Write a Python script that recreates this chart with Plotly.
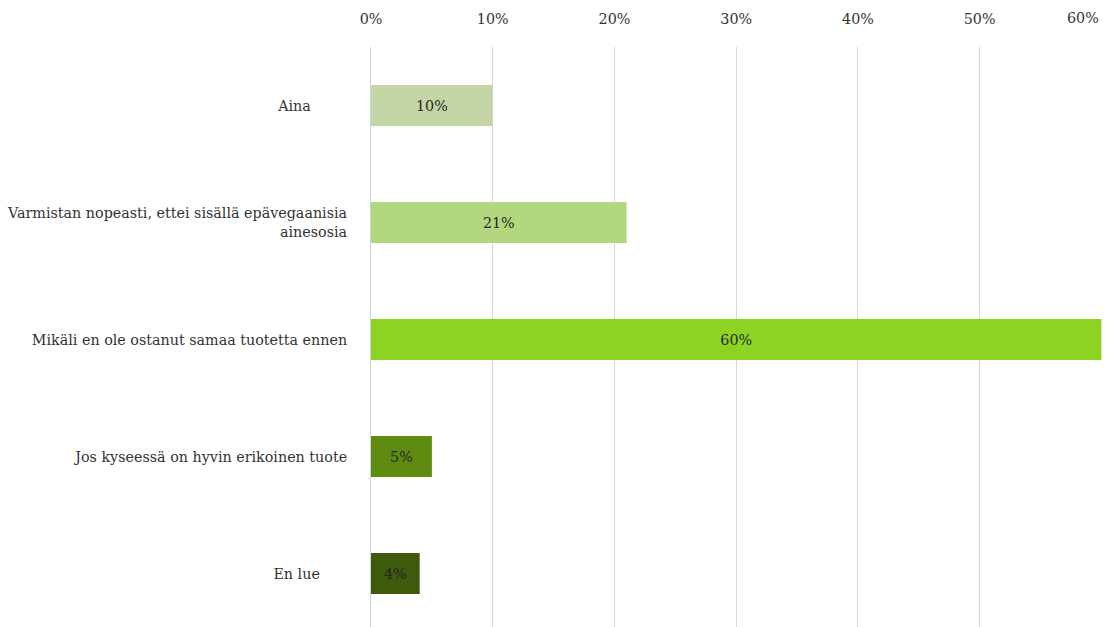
import plotly.graph_objects as go

categories = [
    "Aina",
    "Varmistan nopeasti, ettei sisällä epävegaanisia<br>ainesosia",
    "Mikäli en ole ostanut samaa tuotetta ennen",
    "Jos kyseessä on hyvin erikoinen tuote",
    "En lue",
]
# trailing padding keeps the short labels where the original layout put them
tick_labels = [
    "Aina" + "\u00a0" * 8,
    "Varmistan nopeasti, ettei sisällä epävegaanisia<br>ainesosia",
    "Mikäli en ole ostanut samaa tuotetta ennen",
    "Jos kyseessä on hyvin erikoinen tuote",
    "En lue" + "\u00a0" * 6,
]
values = [10, 21, 60, 5, 4]
bar_colors = ["#c5d6a6", "#b2d77f", "#8dd422", "#5e8b10", "#3e5a0b"]
x_ticks = [0, 10, 20, 30, 40, 50, 60]

FONT = "DejaVu Serif"
SIZE = 14.3

fig = go.Figure(
    go.Bar(
        x=values,
        y=categories,
        orientation="h",
        marker=dict(color=bar_colors, line=dict(width=0)),
        text=[f"{v}%" for v in values],
        textposition="inside",
        insidetextanchor="middle",
        textfont=dict(family=FONT, size=SIZE, color="#262626"),
        cliponaxis=False,
    )
)

fig.update_layout(
    width=1110,
    height=627,
    margin=dict(l=371, r=8, t=47, b=0),
    paper_bgcolor="white",
    plot_bgcolor="white",
    bargap=0.65,
    showlegend=False,
    font=dict(family=FONT, size=SIZE, color="#333333"),
)

# the last tick label sits at the right edge, so it is right-aligned to stay on the page
inner_ticks = x_ticks[:-1]
fig.update_xaxes(
    side="top",
    range=[0, 60.05],
    tickvals=x_ticks,
    ticktext=[f"{t}%" if t in inner_ticks else "" for t in x_ticks],
    showgrid=True,
    gridcolor="#d9d9d9",
    gridwidth=1,
    zeroline=False,
    showline=False,
    ticks="",
    ticklabelstandoff=19,
    tickfont=dict(family=FONT, size=SIZE, color="#333333"),
)
fig.add_annotation(
    x=x_ticks[-1],
    xref="x",
    y=1,
    yref="paper",
    text=f"{x_ticks[-1]}%",
    showarrow=False,
    xanchor="right",
    yanchor="bottom",
    xshift=0,
    yshift=19,
    font=dict(family=FONT, size=SIZE, color="#333333"),
)

fig.update_yaxes(
    type="category",
    categoryorder="array",
    categoryarray=categories,
    tickvals=categories,
    ticktext=tick_labels,
    range=[4.457, -0.5],
    showgrid=False,
    zeroline=False,
    showline=True,
    linecolor="#c9d3ea",
    linewidth=1,
    ticks="",
    ticklabelstandoff=20,
    tickfont=dict(family=FONT, size=SIZE, color="#333333"),
)

fig.write_html("out.html")
